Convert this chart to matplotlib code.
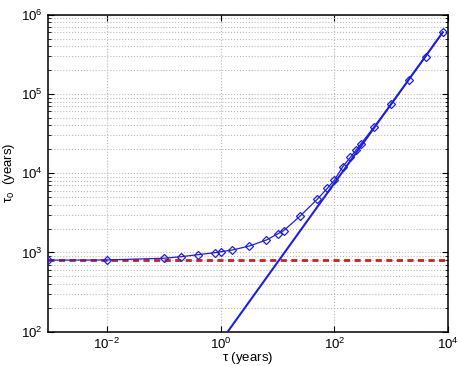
import matplotlib
matplotlib.use("Agg")
import matplotlib.pyplot as plt
from matplotlib.ticker import LogLocator, NullFormatter, FixedLocator
import numpy as np

plt.rcParams["font.family"] = ["Liberation Sans", "DejaVu Sans"]
plt.rcParams["mathtext.fontset"] = "custom"
plt.rcParams["mathtext.rm"] = "Liberation Sans"
plt.rcParams["mathtext.it"] = "Liberation Sans"

# data
tau = [0.00092, 0.01, 0.1, 0.2, 0.4, 0.8, 1.0, 1.6, 3.2, 6.4, 10, 12.8, 25,
       50, 75, 100, 140, 190, 240, 290, 500, 1000, 2000, 4000, 8000]
tau0 = [800, 803, 844, 883, 937, 994, 1021, 1073, 1205, 1436, 1710, 1880, 2880,
        4690, 6440, 8200, 12080, 15800, 19600, 23300, 38600, 74700, 150000,
        295000, 600000]

# asymptote (tau0 proportional to tau)
asym_tau = [1.0, 8000]
asym_tau0 = [75, 600000]

# constant level
const_tau = [0.00092, 1e4]
const_tau0 = [800, 800]

xticks = [1e-2, 1e0, 1e2, 1e4]
xlabels = ["$10^{-2}$", "$10^{0}$", "$10^{2}$", "$10^{4}$"]

fig = plt.figure(figsize=(4.59, 3.66), dpi=100)
ax = fig.add_axes([0.104, 0.0937, 0.8727, 0.8663])

ax.plot(const_tau, const_tau0, "--", color="#cc2020", lw=2, dashes=(2.2, 1.6), zorder=2)
ax.plot(asym_tau, asym_tau0, "-", color="#1f1fe0", lw=1.5, zorder=3)
ax.plot(tau, tau0, "-", color="#1f1fe0", lw=0.9, marker="D", ms=4,
        mfc="none", mec="#1f1fe0", mew=0.9, zorder=4)

ax.set_xscale("log")
ax.set_yscale("log")
ax.set_xlim(0.00092, 1e4)
ax.set_ylim(1e2, 1e6)

ax.xaxis.set_major_locator(FixedLocator(xticks))
ax.set_xticklabels(xlabels)
ax.xaxis.set_minor_locator(FixedLocator([]))
ax.yaxis.set_major_locator(LogLocator(base=10, numticks=10))
ax.yaxis.set_minor_locator(LogLocator(base=10, subs=np.arange(2, 10), numticks=10))
ax.yaxis.set_minor_formatter(NullFormatter())

ax.tick_params(which="both", direction="in", top=True, right=True, labelsize=9.5)
ax.tick_params(which="major", length=4, width=0.8)
ax.tick_params(which="minor", length=2, width=0.6)
ax.tick_params(axis="x", pad=4)

ax.grid(True, which="major", axis="x", ls=":", color="#b8b8b8", lw=0.8)
ax.grid(True, which="both", axis="y", ls=":", color="#b8b8b8", lw=0.8)

for s in ax.spines.values():
    s.set_linewidth(1.1)

ax.set_xlabel(r"$\tau$ (years)", fontsize=9.5, labelpad=-1.5)
ax.set_ylabel(r"$\tau_0$  (years)", fontsize=9.5, labelpad=3)

fig.savefig("out.png", dpi=100)
